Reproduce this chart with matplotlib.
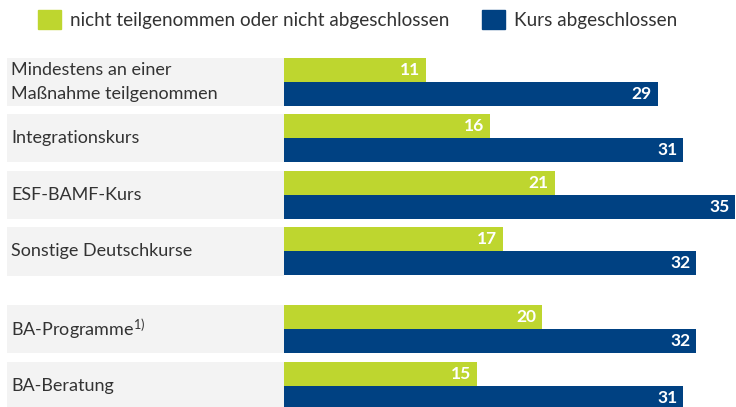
import matplotlib.pyplot as plt
from matplotlib.patches import Patch

plt.rcParams['font.family'] = ['Lato', 'DejaVu Sans']
plt.rcParams['mathtext.fontset'] = 'custom'
plt.rcParams['mathtext.rm'] = 'Lato'
plt.rcParams['mathtext.default'] = 'rm'

categories = ['Mindestens an einer\nMaßnahme teilgenommen', 'Integrationskurs',
              'ESF-BAMF-Kurs', 'Sonstige Deutschkurse',
              'BA-Programme$^{1)}$', 'BA-Beratung']
nicht = [11, 16, 21, 17, 20, 15]
kurs = [29, 31, 35, 32, 32, 31]
pos = [0, 1, 2, 3, 4.38, 5.38]

green = '#bed62f'
blue = '#004182'
grey = '#f3f3f3'

fig = plt.figure(figsize=(7.36, 4.07), dpi=100)
ax = fig.add_axes([7 / 736, 0, 729 / 736, 1])

unit = 56.5       # px per group step
bh = 24 / unit    # bar height
left = -(284 - 7) / 12.886

# grey label boxes
ax.barh(pos, [-left] * len(pos), left=left, height=2 * bh, color=grey,
        align='edge')
ax.barh(pos, nicht, height=bh, color=green, align='edge')
ax.barh([p + bh for p in pos], kurs, height=bh, color=blue, align='edge')

for p, c in zip(pos, categories):
    ax.text(left + 4 / 12.886, p + bh, c, ha='left', va='center',
            fontsize=13, color='#333333', linespacing=1.55)
for p, v in zip(pos, nicht):
    ax.text(v - 0.45, p + bh / 2, str(v), ha='right', va='center',
            color='white', fontsize=12.5, fontweight='bold')
for p, v in zip(pos, kurs):
    ax.text(v - 0.45, p + 1.5 * bh, str(v), ha='right', va='center',
            color='white', fontsize=12.5, fontweight='bold')

ax.set_xlim(left, left + 729 / 12.886)
ax.set_ylim((407 - 58) / unit, -58 / unit)
ax.axis('off')

handles = [Patch(color=green, label='nicht teilgenommen oder nicht abgeschlossen'),
           Patch(color=blue, label='Kurs abgeschlossen')]
fig.legend(handles=handles, loc='center left',
           bbox_to_anchor=(38 / 736, 1 - 19.5 / 407),
           ncol=2, frameon=False, fontsize=13.6, handlelength=1.22,
           handleheight=1.22, handletextpad=0.5, columnspacing=1.7,
           borderpad=0, borderaxespad=0, labelcolor='#333333')

fig.savefig('out.png', dpi=100)
